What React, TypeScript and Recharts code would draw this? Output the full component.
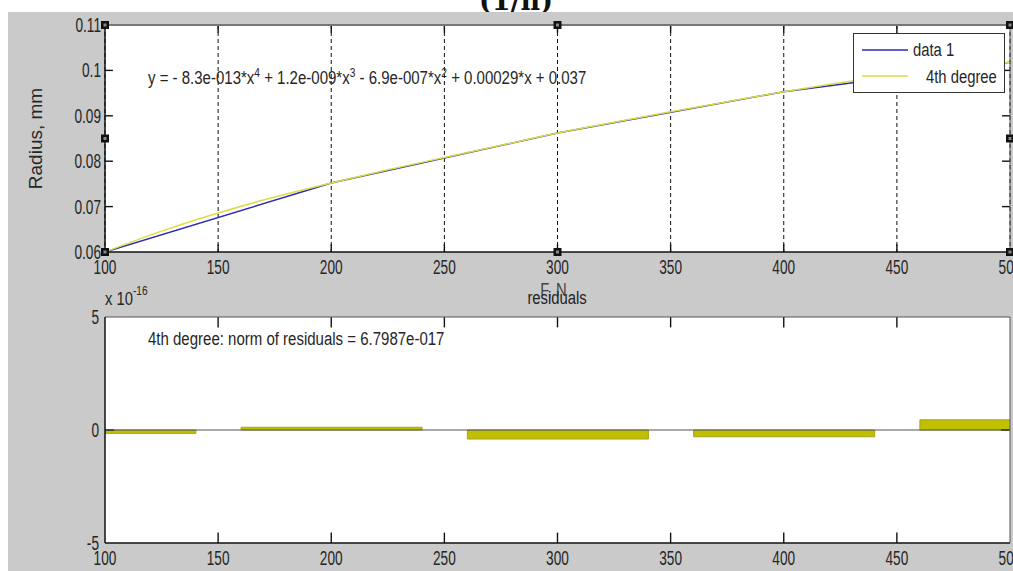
import React from 'react';
import {
  ComposedChart,
  BarChart,
  Line,
  Bar,
  XAxis,
  YAxis,
  CartesianGrid,
  ReferenceLine,
  ReferenceDot,
  Legend,
  Label,
} from 'recharts';

// force axis, shared by both panels
const forceTicks = [100, 150, 200, 250, 300, 350, 400, 450, 500];
const radiusTicks = [0.06, 0.07, 0.08, 0.09, 0.1, 0.11];
const residualTicks = [-5, 0, 5];

// measured points, F (N) -> radius (mm)
const dataForce = [100, 200, 300, 400, 500];
const dataRadius = [0.06, 0.0752, 0.0862, 0.0953, 0.1018];

// 4th degree fit
const fitForce = [100, 125, 150, 175, 200, 225, 250, 275, 300, 325, 350, 375, 400, 425, 450, 475, 500];
const fitRadius = [0.06, 0.0646, 0.0686, 0.0721, 0.0752, 0.0781, 0.0808, 0.0835, 0.0862, 0.0886, 0.0909, 0.0931, 0.0953, 0.0973, 0.099, 0.1004, 0.1018];

// residuals in units of 1e-16
const residualForce = [100, 200, 300, 400, 500];
const residualValues = [-0.15, 0.12, -0.4, -0.3, 0.45];

// plot-edit handles drawn by matlab on the selected axes
const handleForce = [100, 300, 500, 100, 500, 100, 300, 500];
const handleRadius = [0.11, 0.11, 0.11, 0.085, 0.085, 0.06, 0.06, 0.06];

const legendOrder = ['data 1', '4th degree'];

const dataPts = dataForce.map((x, i) => ({ x, r: dataRadius[i] }));
const fitPts = fitForce.map((x, i) => ({ x, r: fitRadius[i] }));
const residPts = residualForce.map((x, i) => ({ x, r: residualValues[i] }));

const FONT = '"Liberation Sans", Arial, sans-serif';
const INK = '#262626';
const AXIS = '#111';

// inward tick marks (matlab box style), as segments in data units
type Seg = [{ x: number; y: number }, { x: number; y: number }];
function boxTicks(xs: number[], ys: number[], xDom: number[], yDom: number[], xLen: number, yLen: number): Seg[] {
  const out: Seg[] = [];
  xs.slice(1, -1).forEach((x) => {
    out.push([{ x, y: yDom[0] }, { x, y: yDom[0] + yLen }]);
    out.push([{ x, y: yDom[1] }, { x, y: yDom[1] - yLen }]);
  });
  ys.slice(1, -1).forEach((y) => {
    out.push([{ x: xDom[0], y }, { x: xDom[0] + xLen, y }]);
    out.push([{ x: xDom[1], y }, { x: xDom[1] - xLen, y }]);
  });
  return out;
}

const topTicks = boxTicks(forceTicks, radiusTicks, [100, 500], [0.06, 0.11], 3.5, 0.0017);
const bottomTicks = boxTicks(forceTicks, residualTicks, [100, 500], [-5, 5], 4, 0.46);

// the screenshot is squeezed sideways, so text is drawn narrowed
function NText({ x, y, anchor = 'start', size = 19, sx = 0.78, fill = INK, dy, children }: any) {
  return (
    <text
      transform={`translate(${x},${y}) scale(${sx},1)`}
      textAnchor={anchor}
      fontSize={size}
      fontFamily={FONT}
      fill={fill}
      dy={dy}
    >
      {children}
    </text>
  );
}

const xTick = (p: any) => (
  <NText x={p.x} y={p.y + 22} anchor="middle" size={19.5} sx={0.7}>
    {p.payload.value}
  </NText>
);

const yTick = (gap: number) => (p: any) => (
  <NText x={p.x - gap} y={p.y} anchor="end" size={19.5} sx={0.7} dy="0.36em">
    {p.payload.value}
  </NText>
);

const handleShape = (p: any) => (
  <g>
    <rect x={p.cx - 4} y={p.cy - 4} width={8} height={8} fill="#111" />
    <rect x={p.cx - 1.5} y={p.cy - 1.5} width={3} height={3} fill="#888" />
  </g>
);

const legendTextX = [60, 73];

const renderLegend = ({ payload }: any) => {
  const items = [...(payload || [])].sort(
    (a: any, b: any) => legendOrder.indexOf(a.value) - legendOrder.indexOf(b.value),
  );
  return (
    <svg width={152} height={60} style={{ display: 'block' }}>
      <rect x={0.5} y={0.5} width={151} height={59} fill="#fff" stroke="#333" />
      {items.map((p: any, i: number) => (
        <g key={p.value}>
          <line x1={9} x2={55} y1={17 + i * 26} y2={17 + i * 26} stroke={p.color} strokeWidth={1.5} />
          <NText x={legendTextX[i]} y={23 + i * 27}>
            {p.value}
          </NText>
        </g>
      ))}
    </svg>
  );
};

const box = (left: number, top: number, width: number, height: number): React.CSSProperties => ({
  position: 'absolute',
  left,
  top,
  width,
  height,
  background: '#fff',
});

export default function App() {
  return (
    <div
      style={{
        position: 'absolute',
        left: 0,
        top: 0,
        width: 1013,
        height: 571,
        overflow: 'hidden',
        background: '#fff',
        fontFamily: FONT,
      }}
    >
      <svg width={1013} height={40} style={{ position: 'absolute', left: 0, top: 0 }}>
        <text x={516} y={10} textAnchor="middle" fontSize={27} fontWeight="bold" fontFamily='"DejaVu Serif", serif' fill="#111">
          (1/n)
        </text>
      </svg>
      <div style={{ position: 'absolute', left: 8, top: 12, width: 1005, height: 559, background: '#cacaca' }} />
      {/* white axes backgrounds, same rectangles as the plot areas below */}
      <div style={box(105, 25, 905, 227)} />
      <div style={box(105, 317, 905, 226)} />

      <div style={{ position: 'absolute', left: 0, top: 0 }}>
        <ComposedChart width={1013} height={310} margin={{ top: 24, right: 2, left: 0, bottom: 28 }}>
          <CartesianGrid horizontal={false} stroke={AXIS} strokeDasharray="4 3" />
          <XAxis
            dataKey="x"
            type="number"
            domain={[100, 500]}
            ticks={forceTicks}
            interval={0}
            allowDataOverflow
            height={30}
            tickSize={0}
            tickMargin={0}
            tickLine={false}
            tick={xTick}
            axisLine={{ stroke: AXIS, strokeWidth: 1.5 }}
            label={
              <Label
                content={(p: any) => (
                  <NText x={p.viewBox.x + p.viewBox.width / 2 - 4} y={p.viewBox.y + 44} anchor="middle" fill="#444">
                    F, N
                  </NText>
                )}
              />
            }
          />
          <XAxis
            xAxisId="top"
            orientation="top"
            type="number"
            domain={[100, 500]}
            ticks={forceTicks}
            height={1}
            tick={false}
            tickLine={false}
            axisLine={{ stroke: '#777', strokeWidth: 2 }}
          />
          <YAxis
            type="number"
            domain={[0.06, 0.11]}
            ticks={radiusTicks}
            interval={0}
            allowDataOverflow
            width={105}
            tickSize={0}
            tickMargin={0}
            tickLine={false}
            tick={yTick(4)}
            axisLine={{ stroke: AXIS, strokeWidth: 1.5 }}
            label={
              <Label
                content={(p: any) => (
                  <text
                    transform={`translate(42,${p.viewBox.y + p.viewBox.height / 2}) rotate(-90)`}
                    textAnchor="middle"
                    fontSize={19}
                    fontFamily={FONT}
                    fill={INK}
                  >
                    Radius, mm
                  </text>
                )}
              />
            }
          />
          <YAxis
            yAxisId="right"
            orientation="right"
            type="number"
            domain={[0.06, 0.11]}
            ticks={radiusTicks}
            width={1}
            tick={false}
            tickLine={false}
            axisLine={{ stroke: '#555' }}
          />
          {topTicks.map((s, i) => (
            <ReferenceLine key={'t' + i} segment={s} stroke={AXIS} strokeWidth={1.4} ifOverflow="visible" />
          ))}
          <Line
            data={dataPts}
            dataKey="r"
            name="data 1"
            type="linear"
            stroke="#2a2ab4"
            strokeWidth={1.5}
            dot={false}
            isAnimationActive={false}
          />
          <Line
            data={fitPts}
            dataKey="r"
            name="4th degree"
            type="monotone"
            stroke="#dcdc46"
            strokeWidth={1.5}
            dot={false}
            isAnimationActive={false}
          />
          {handleForce.map((f, i) => (
            <ReferenceDot key={i} x={f} y={handleRadius[i]} r={4} ifOverflow="visible" shape={handleShape} />
          ))}
          <Legend
            layout="vertical"
            align="center"
            verticalAlign="middle"
            wrapperStyle={{ left: 853, top: 33, width: 152, height: 60 }}
            content={renderLegend}
          />
        </ComposedChart>
      </div>

      <div style={{ position: 'absolute', left: 0, top: 290 }}>
        <BarChart width={1013} height={281} data={residPts} margin={{ top: 26, right: 2, left: 0, bottom: 4 }} barSize={181}>
          <XAxis
            dataKey="x"
            type="number"
            domain={[100, 500]}
            ticks={forceTicks}
            interval={0}
            allowDataOverflow
            height={24}
            tickSize={0}
            tickMargin={0}
            tickLine={false}
            tick={xTick}
            axisLine={{ stroke: AXIS, strokeWidth: 1.5 }}
          />
          <XAxis
            xAxisId="top"
            orientation="top"
            type="number"
            domain={[100, 500]}
            ticks={forceTicks}
            height={1}
            tick={false}
            tickLine={false}
            axisLine={{ stroke: '#555' }}
          />
          <YAxis
            type="number"
            domain={[-5, 5]}
            ticks={residualTicks}
            interval={0}
            width={105}
            tickSize={0}
            tickMargin={0}
            tickLine={false}
            tick={yTick(6)}
            axisLine={{ stroke: AXIS, strokeWidth: 1.5 }}
          />
          <YAxis
            yAxisId="right"
            orientation="right"
            type="number"
            domain={[-5, 5]}
            ticks={residualTicks}
            width={1}
            tick={false}
            tickLine={false}
            axisLine={{ stroke: '#555' }}
          />
          {bottomTicks.map((s, i) => (
            <ReferenceLine key={'b' + i} segment={s} stroke={AXIS} strokeWidth={1.4} ifOverflow="visible" />
          ))}
          <Bar dataKey="r" fill="#c0c000" stroke="#a4a41a" isAnimationActive={false} />
          <ReferenceLine y={0} stroke="#555" />
        </BarChart>
      </div>

      <svg width={1013} height={571} style={{ position: 'absolute', left: 0, top: 0, pointerEvents: 'none' }}>
        <NText x={148} y={84} sx={0.79}>
          y = - 8.3e-013*x
          <tspan dy={-7} fontSize={13}>4</tspan>
          <tspan dy={7} fontSize={19}>{' + 1.2e-009*x'}</tspan>
          <tspan dy={-7} fontSize={13}>3</tspan>
          <tspan dy={7} fontSize={19}>{' - 6.9e-007*x'}</tspan>
          <tspan dy={-7} fontSize={13}>2</tspan>
          <tspan dy={7} fontSize={19}>{' + 0.00029*x + 0.037'}</tspan>
        </NText>
        <NText x={148} y={345} sx={0.79}>
          4th degree: norm of residuals = 6.7987e-017
        </NText>
        <NText x={105} y={305}>
          x 10
          <tspan dy={-10} fontSize={13}>-16</tspan>
        </NText>
        <NText x={557} y={304} anchor="middle" fill="#222">
          residuals
        </NText>
      </svg>
    </div>
  );
}
